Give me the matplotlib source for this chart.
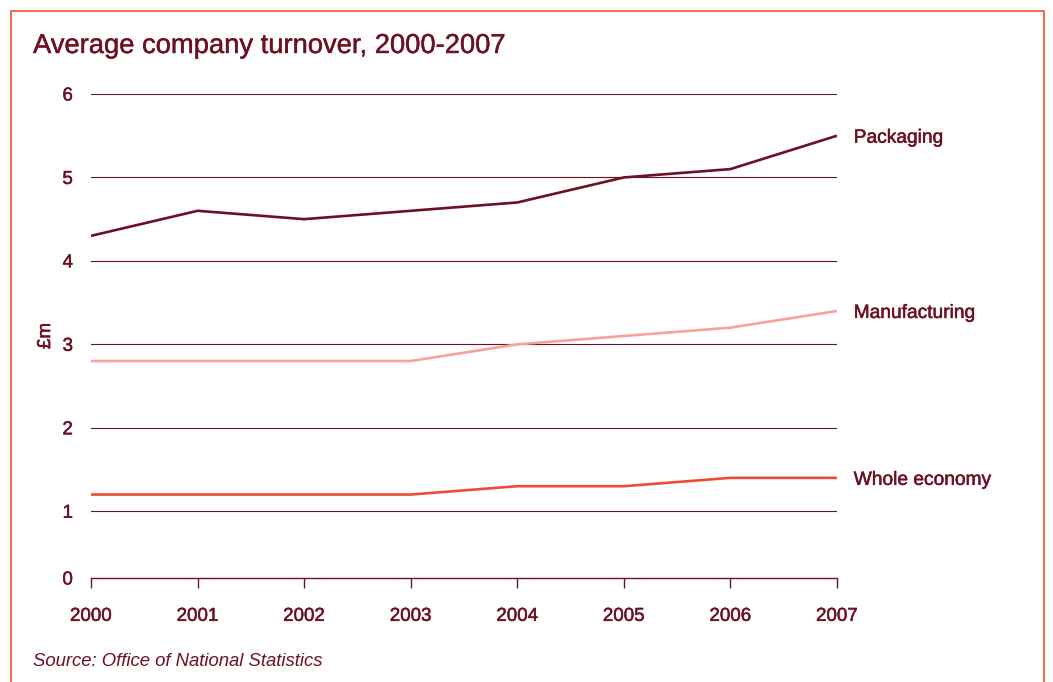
import matplotlib.pyplot as plt
import matplotlib.patheffects as pe
from matplotlib.lines import Line2D

plt.rcParams['font.family'] = ['Liberation Sans', 'DejaVu Sans']

years = [2000, 2001, 2002, 2003, 2004, 2005, 2006, 2007]
packaging = [4.3, 4.6, 4.5, 4.6, 4.7, 5.0, 5.1, 5.5]
manufacturing = [2.8, 2.8, 2.8, 2.8, 3.0, 3.1, 3.2, 3.4]
whole_economy = [1.2, 1.2, 1.2, 1.2, 1.3, 1.3, 1.4, 1.4]
series_names = ["Packaging", "Manufacturing", "Whole economy"]
y_ticks = [1, 2, 3, 4, 5, 6]

DARK = "#6d1022"
colors = ["#6d1022", "#f5a396", "#ee4c36"]
FRAME = "#f15a3e"

# slightly heavier text than the regular weight
heavy = [pe.withStroke(linewidth=0.35, foreground=DARK)]

fig = plt.figure(figsize=(10.53, 6.82), dpi=100)
ax = fig.add_axes([0.0864, 0.1525, 0.7085, 0.7097])

for vals, name, c in zip([packaging, manufacturing, whole_economy], series_names, colors):
    ax.plot(years, vals, color=c, linewidth=1.9, zorder=3, solid_capstyle="butt")
    ax.annotate(name, xy=(years[-1], vals[-1]), xytext=(12, -1.8), textcoords="offset points",
                va="center", ha="left", fontsize=13.8, color=DARK, path_effects=heavy)

ax.set_xlim(2000, 2007)
ax.set_ylim(0.2, 6)
ax.set_xticks(years)
ax.set_xticklabels([str(y) for y in years])
ax.set_yticks([0.2] + y_ticks)
ax.set_yticklabels(["0"] + [str(t) for t in y_ticks])
for t in y_ticks:
    ax.axhline(t, color=DARK, linewidth=0.8, zorder=1)

for s in ["top", "right", "left"]:
    ax.spines[s].set_visible(False)
ax.spines["bottom"].set_color(DARK)
ax.spines["bottom"].set_linewidth(1.0)
ax.tick_params(axis="x", direction="out", length=7.5, width=1.0, color=DARK,
               labelcolor=DARK, labelsize=13.5, pad=14)
ax.tick_params(axis="y", length=0, labelcolor=DARK, labelsize=13.5, pad=13)
for lbl in ax.get_xticklabels() + ax.get_yticklabels():
    lbl.set_path_effects(heavy)
ax.set_ylabel("£m", color=DARK, fontsize=13.5, labelpad=6, path_effects=heavy)

fig.text(33 / 1053, 1 - 46 / 682, "Average company turnover, 2000-2007",
         fontsize=19.7, color=DARK, va="center", ha="left",
         path_effects=[pe.withStroke(linewidth=0.3, foreground=DARK)])
fig.text(33 / 1053, 1 - 662 / 682, "Source: Office of National Statistics",
         fontsize=13.3, style="italic", color=DARK, va="center", ha="left")

# orange frame, open at the bottom
x0, x1, y0 = 10.5 / 1053, 1044 / 1053, 1 - 10.5 / 682
fig.add_artist(Line2D([x0, x0, x1, x1], [0, y0, y0, 0], color=FRAME, linewidth=1.3,
                      transform=fig.transFigure))

fig.savefig("out.png", dpi=100)
